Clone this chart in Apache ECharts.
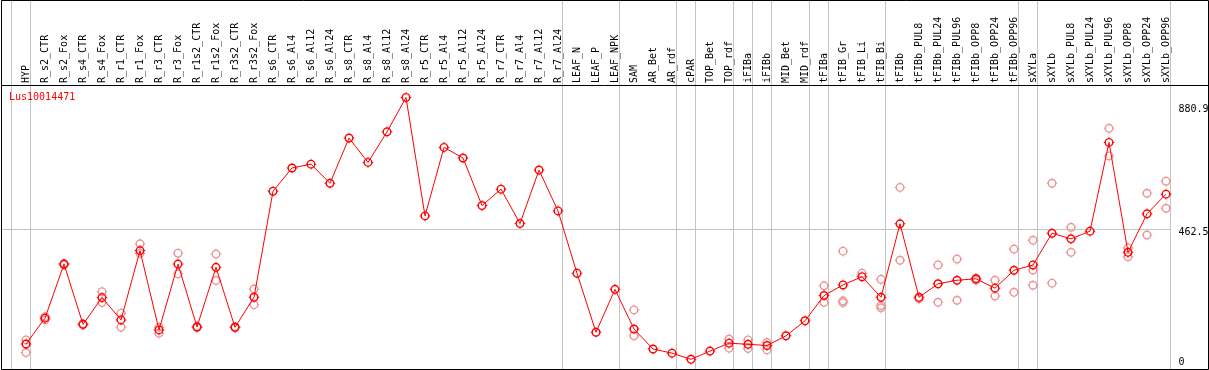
<!DOCTYPE html>
<html><head><meta charset="utf-8">
<script src="https://cdn.jsdelivr.net/npm/echarts@6/dist/echarts.min.js"></script>
<style>html,body{margin:0;padding:0;background:#fff}#c{width:1209px;height:370px}</style>
</head><body><div id="c"></div>
<script>
const chartTitle = 'Lus10014471';
const categories = ['HYP','R_s2_CTR','R_s2_Fox','R_s4_CTR','R_s4_Fox','R_r1_CTR','R_r1_Fox','R_r3_CTR','R_r3_Fox','R_r1s2_CTR','R_r1s2_Fox','R_r3s2_CTR','R_r3s2_Fox','R_s6_CTR','R_s6_Al4','R_s6_Al12','R_s6_Al24','R_s8_CTR','R_s8_Al4','R_s8_Al12','R_s8_Al24','R_r5_CTR','R_r5_Al4','R_r5_Al12','R_r5_Al24','R_r7_CTR','R_r7_Al4','R_r7_Al12','R_r7_Al24','LEAF_N','LEAF_P','LEAF_NPK','SAM','AR_Bet','AR_rdf','cPAR','TOP_Bet','TOP_rdf','iFIBa','iFIBb','MID_Bet','MID_rdf','tFIBa','tFIB_Gr','tFIB_Li','tFIB_Bi','tFIBb','tFIBb_PUL8','tFIBb_PUL24','tFIBb_PUL96','tFIBb_OPP8','tFIBb_OPP24','tFIBb_OPP96','sXYLa','sXYLb','sXYLb_PUL8','sXYLb_PUL24','sXYLb_PUL96','sXYLb_OPP8','sXYLb_OPP24','sXYLb_OPP96'];
const meanValues = [71,159,343,138,229,153,389,119,343,129,332,128,230,591,670,683,618,772,689,793,910,507,740,704,542,598,481,663,524,312,111,257,122,54,40,19,47,74,70,66,99,150,236,272,300,230,480,230,276,288,293,261,322,340,448,429,455,757,383,514,581];
const rep1 = [85,164,345,140,249,176,412,128,380,131,377,130,258,null,null,null,null,null,null,null,null,null,null,null,null,null,null,null,null,null,null,null,187,null,null,null,null,88,85,76,null,null,269,387,312,291,604,225,340,360,295,288,394,424,618,468,null,805,398,584,625];
const rep2 = [42,153,340,136,212,128,380,108,310,127,287,126,205,null,null,null,null,null,null,null,null,null,null,null,null,null,null,null,null,null,null,null,99,null,null,null,null,57,56,51,null,null,213,218,null,202,356,null,213,220,288,234,247,323,278,383,null,711,368,442,533];
const rep3 = [null,null,null,null,null,null,null,null,null,null,null,null,null,null,null,null,null,null,null,null,null,null,null,null,null,null,null,null,null,null,null,null,null,null,null,null,null,null,null,null,null,null,null,212,null,194,null,null,null,null,null,null,null,271,null,null,null,null,null,null,null];
const axisTickValues = [0, 462.5, 880.9];
const gridLineValues = [462.5];
const groupEnds = [-1,0,28,31,34,35,37,38,39,41,42,45,52,53,60];

const repData = [];
[rep1, rep2, rep3].forEach(arr => arr.forEach((v, i) => { if (v != null) repData.push([i, v]); }));

const FONT = 'DejaVu Sans Mono';
const MARK = 'path://M0,-45 A45,45 0 1 1 0,45 A45,45 0 1 1 0,-45 Z M0,-31 A31,31 0 1 0 0,31 A31,31 0 1 0 0,-31 Z ' +
  'M-5,-53 L5,-53 L5,-42 L-5,-42 Z M5,53 L-5,53 L-5,42 L5,42 Z M-53,5 L-53,-5 L-42,-5 L-42,5 Z M53,-5 L53,5 L42,5 L42,-5 Z';
const chart = echarts.init(document.getElementById('c'), null, {renderer: 'canvas'});
const option = {
  animation: false,
  backgroundColor: '#fff',
  title: {text: chartTitle, left: 9, top: 92, padding: 0,
    textStyle: {color: '#ff0000', fontFamily: FONT, fontSize: 10, fontWeight: 'normal'}},
  grid: {left: 26, right: 43, top: 86, bottom: 1, containLabel: false},
  xAxis: {type: 'category', data: categories, position: 'top', boundaryGap: false,
    axisLine: {show: false}, axisTick: {show: false}, splitLine: {show: false},
    axisLabel: {rotate: 90, interval: 0, margin: 3, fontFamily: FONT, fontSize: 10, color: '#000'}},
  yAxis: {type: 'value', min: -14, max: 949, show: false, splitLine: {show: false}},
  series: [
    {type: 'scatter', data: repData, symbol: MARK, symbolSize: 10.6, z: 3,
      itemStyle: {color: '#eb9595', borderWidth: 0, opacity: 1}},
    {type: 'line', data: meanValues, symbol: MARK, symbolSize: 10.6, z: 4, showAllSymbol: true,
      lineStyle: {color: '#ff0000', width: 1},
      itemStyle: {color: '#ff0000', borderWidth: 0}}
  ]
};
chart.setOption(option);

const p0 = chart.convertToPixel({xAxisIndex: 0}, 0);
const p1 = chart.convertToPixel({xAxisIndex: 0}, 1);
const step = p1 - p0;
const lastX = chart.convertToPixel({xAxisIndex: 0}, categories.length - 1);
const rightEdge = Math.round(lastX + step * 0.22) + 0.5;
const graphics = [];
groupEnds.forEach(i => {
  const x = Math.round(p0 + step * (i + 0.22)) + 0.5;
  graphics.push({type: 'line', silent: true, z: 0, shape: {x1: x, y1: 0, x2: x, y2: 369},
    style: {stroke: '#c4c4c4', lineWidth: 1}});
});
gridLineValues.forEach(v => {
  const y = Math.round(chart.convertToPixel({yAxisIndex: 0}, v)) + 0.5;
  graphics.push({type: 'line', silent: true, z: 0, shape: {x1: 1, y1: y, x2: rightEdge, y2: y},
    style: {stroke: '#c4c4c4', lineWidth: 1}});
});
axisTickValues.forEach(v => {
  let y = chart.convertToPixel({yAxisIndex: 0}, v) + 3;
  if (y > 362) y = 362;
  graphics.push({type: 'text', silent: true, z: 5, x: rightEdge + 8, y: y,
    style: {text: String(v), fill: '#000', font: '10px "' + FONT + '"', verticalAlign: 'middle', align: 'left'}});
});
graphics.push({type: 'line', silent: true, z: 6, shape: {x1: 1, y1: 85.5, x2: 1208, y2: 85.5},
  style: {stroke: '#000', lineWidth: 1}});
graphics.push({type: 'rect', silent: true, z: 6, shape: {x: 1.5, y: 0.5, width: 1207, height: 369},
  style: {stroke: '#000', fill: null, lineWidth: 1}});
chart.setOption({graphic: graphics});
</script>
</body></html>
